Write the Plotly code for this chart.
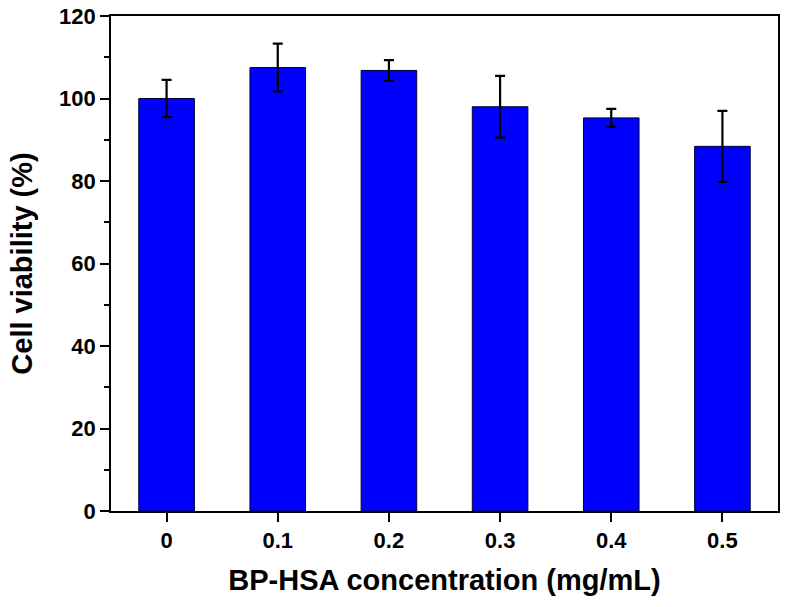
import plotly.graph_objects as go

categories = ["0", "0.1", "0.2", "0.3", "0.4", "0.5"]
viability = [100.0, 107.5, 106.8, 98.0, 95.3, 88.4]
errors = [4.5, 5.8, 2.5, 7.5, 2.2, 8.6]
y_ticks = [0, 20, 40, 60, 80, 100, 120]

font_family = "Liberation Sans, Arial, sans-serif"

fig = go.Figure()
fig.add_trace(go.Bar(
    x=categories,
    y=viability,
    width=0.5,
    marker=dict(color="#0000FF", line=dict(color="#000033", width=1)),
    error_y=dict(type="data", array=errors, visible=True, color="black",
                 thickness=2.2, width=5),
    hoverinfo="skip",
))

fig.update_layout(
    width=785, height=607,
    margin=dict(l=111, r=7, t=16, b=96, autoexpand=False),
    paper_bgcolor="white", plot_bgcolor="white",
    showlegend=False,
    font=dict(family=font_family, color="black"),
    xaxis=dict(
        type="category",
        range=[-0.5, 5.5],
        automargin=False,
        showline=True, linecolor="black", linewidth=1.8, mirror=True,
        ticks="outside", ticklen=9, tickwidth=1.8, tickcolor="black",
        tickfont=dict(size=22, family=font_family, weight="bold"),
        showgrid=False, zeroline=False,
        title=dict(text="<b>BP-HSA concentration (mg/mL)</b>",
                   font=dict(size=29, family=font_family), standoff=17),
    ),
    yaxis=dict(
        range=[0, 120],
        tickvals=y_ticks,
        automargin=False,
        ticklabeloverflow="allow",
        showline=True, linecolor="black", linewidth=1.8, mirror=True,
        ticks="outside", ticklen=9, tickwidth=1.8, tickcolor="black",
        minor=dict(dtick=10, ticks="outside", ticklen=5, tickwidth=1.8, tickcolor="black"),
        tickfont=dict(size=22, family=font_family, weight="bold"),
        showgrid=False, zeroline=False,
        title=dict(text="<b>Cell viability (%)</b>",
                   font=dict(size=29, family=font_family), standoff=18),
    ),
)

fig.write_html("out.html", config={"displayModeBar": False},
               post_script="document.body.style.margin='0';")
